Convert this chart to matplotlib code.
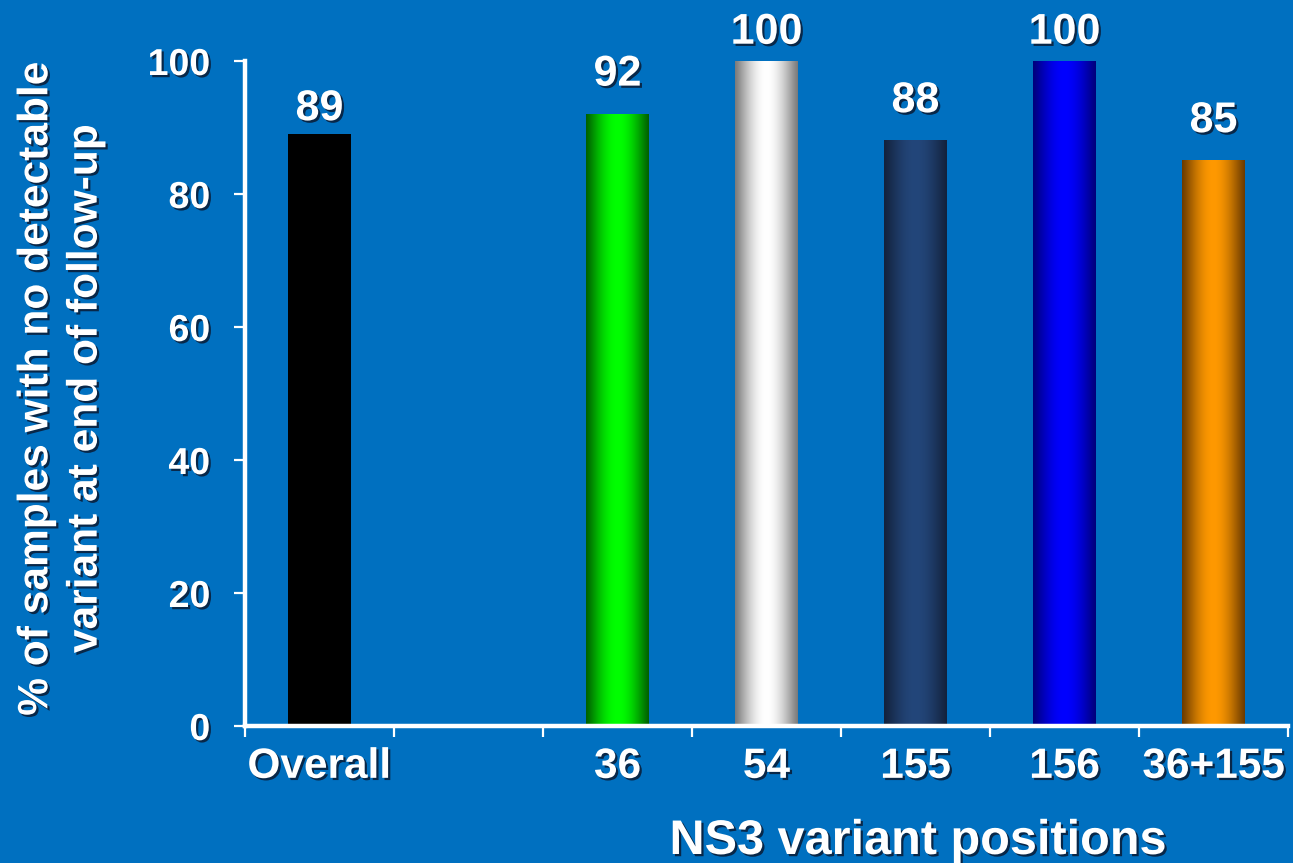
import numpy as np
import matplotlib
matplotlib.use("Agg")
import matplotlib.pyplot as plt
import matplotlib.patheffects as pe
from matplotlib.colors import to_rgb

# Data
categories = ["Overall", "", "36", "54", "155", "156", "36+155"]
values = [89, None, 92, 100, 88, 100, 85]
y_ticks = [0, 20, 40, 60, 80, 100]

# Bar shading: edge colour -> centre colour -> edge colour
edge_colors = ["#000000", None, "#005f00", "#7a7a7a", "#13223c", "#00007a", "#6a3a00"]
center_colors = ["#000000", None, "#00ff00", "#ffffff", "#23467a", "#0000ff", "#ff9900"]

BG = "#0070c0"
FONT = "Liberation Sans"
shadow = [pe.withSimplePatchShadow(offset=(1.6, -1.6), shadow_rgbFace="#0a1a33", alpha=0.85)]

plt.rcParams["font.family"] = [FONT, "DejaVu Sans"]
plt.rcParams["font.weight"] = "bold"

fig = plt.figure(figsize=(12.93, 8.63), dpi=100, facecolor=BG)
ax = fig.add_axes([245 / 1293, 137 / 863, 1043 / 1293, 665 / 863])
ax.set_facecolor(BG)

x = np.arange(len(categories))
bar_width = 0.42
s = np.linspace(0, 1, 256)
weight = np.sin(np.pi * s) ** 1.1

for xi, v, ec, cc in zip(x, values, edge_colors, center_colors):
    if v is None:
        continue
    rect = ax.bar(xi, v, width=bar_width, color=cc, linewidth=0, zorder=2)[0]
    e = np.array(to_rgb(ec))
    c = np.array(to_rgb(cc))
    img = e[None, :] + (c - e)[None, :] * weight[:, None]
    x0 = rect.get_x()
    ax.imshow(img[None, :, :], extent=[x0, x0 + bar_width, 0, v],
              aspect="auto", interpolation="bilinear", zorder=3)
    gap = 2.1 if xi == 0 else 4.3
    ax.text(xi, min(v + gap, 102.6), f"{v}", ha="center", va="baseline",
            color="white", fontsize=31, fontweight="bold",
            path_effects=shadow, clip_on=False, zorder=4)

ax.set_xlim(-0.5, len(categories) - 0.5)
ax.set_ylim(0, 100)

for side in ("top", "right"):
    ax.spines[side].set_visible(False)
for side in ("left", "bottom"):
    ax.spines[side].set_color("white")
    ax.spines[side].set_linewidth(3.2)
    ax.spines[side].set_zorder(5)

ax.set_yticks(y_ticks)
ax.set_yticklabels([str(t) for t in y_ticks])
ax.tick_params(axis="y", colors="white", length=8, width=1.6, pad=17, labelsize=27)
for lbl in ax.get_yticklabels():
    lbl.set_fontweight("bold")
    lbl.set_path_effects(shadow)

ax.set_xticks(np.arange(-0.5, len(categories), 1.0))
ax.set_xticklabels([])
ax.tick_params(axis="x", which="major", colors="white", length=8, width=1.6)
ax.set_xticks(x, minor=True)
ax.set_xticklabels(categories, minor=True)
ax.tick_params(axis="x", which="minor", colors="white", length=0, pad=15, labelsize=30.5)
for lbl in ax.get_xticklabels(minor=True):
    lbl.set_fontweight("bold")
    lbl.set_path_effects(shadow)

fig.text(61 / 1293, 1 - 389 / 863,
         "% of samples with no detectable\nvariant at end of follow-up",
         rotation=90, ha="center", va="center", multialignment="center",
         linespacing=1.3, color="white", fontsize=30.6, fontweight="bold",
         path_effects=shadow)
fig.text(918 / 1293, 1 - 854 / 863, "NS3 variant positions",
         ha="center", va="baseline", color="white", fontsize=35,
         fontweight="bold", path_effects=shadow)

fig.savefig("out.png", dpi=100, facecolor=BG)
